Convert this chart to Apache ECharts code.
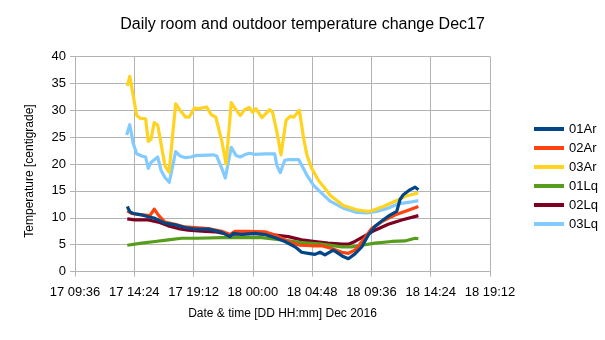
<!DOCTYPE html>
<html><head><meta charset="utf-8">
<script src="https://cdn.jsdelivr.net/npm/echarts@6/dist/echarts.min.js"></script>
<style>html,body{margin:0;padding:0;background:#fff}#c{width:605px;height:340px}</style>
</head><body><div id="c"></div>
<script>
const titleText = "Daily room and outdoor temperature change Dec17";
const xAxisName = "Date & time [DD HH:mm] Dec 2016";
const yAxisName = "Temperature [centigrade]";
const seriesNames = ["01Ar", "02Ar", "03Ar", "01Lq", "02Lq", "03Lq"];
const seriesColors = ["#004586", "#ff420e", "#ffd320", "#579d1c", "#7e0021", "#83caff"];
// x axis: "17 09:36" .. "18 19:12", step 4:48
const xMinLabel = "17 09:36", xMaxLabel = "18 19:12", xStepMinutes = 288;
const yTicks = [0, 5, 10, 15, 20, 25, 30, 35, 40];

const s01Ar = [["17 13:50",12.1],["17 14:03",11.1],["17 14:19",10.8],["17 14:52",10.6],["17 15:32",10.2],["17 16:05",9.9],["17 16:53",9.0],["17 17:42",8.7],["17 18:30",8.2],["17 19:19",7.9],["17 20:24",7.9],["17 21:29",7.3],["17 22:09",6.5],["17 22:25",7.1],["17 23:06",6.9],["18 00:10",7.1],["18 00:59",6.9],["18 01:48",6.3],["18 02:36",5.6],["18 03:25",4.6],["18 03:57",3.6],["18 04:29",3.4],["18 05:02",3.2],["18 05:26",3.6],["18 05:50",3.1],["18 06:31",4.0],["18 06:55",3.4],["18 07:19",2.8],["18 07:44",2.4],["18 08:16",3.3],["18 08:49",4.6],["18 09:21",6.8],["18 09:53",8.4],["18 10:26",9.4],["18 11:06",10.5],["18 11:39",11.2],["18 11:55",13.4],["18 12:11",14.3],["18 12:43",15.2],["18 13:08",15.7],["18 13:24",15.2]];
const s02Ar = [["17 13:50",11.3],["17 14:11",10.8],["17 14:52",10.6],["17 15:40",10.4],["17 16:01",11.6],["17 16:21",10.5],["17 16:53",9.2],["17 17:42",8.8],["17 18:30",8.3],["17 19:19",8.2],["17 20:24",8.0],["17 21:29",7.5],["17 22:09",6.9],["17 22:33",7.5],["17 23:38",7.5],["18 00:59",7.4],["18 01:48",6.8],["18 02:52",5.6],["18 03:49",4.9],["18 04:46",4.8],["18 05:34",4.8],["18 06:23",4.3],["18 07:12",3.6],["18 07:44",3.4],["18 08:16",4.0],["18 08:57",5.9],["18 09:37",8.0],["18 10:26",9.3],["18 11:30",10.5],["18 12:35",11.4],["18 13:24",12.1]];
const s03Ar = [["17 13:50",34.5],["17 14:02",36.3],["17 14:36",29.0],["17 14:52",28.5],["17 15:19",28.4],["17 15:32",24.2],["17 15:45",24.6],["17 16:01",27.7],["17 16:18",27.2],["17 16:53",19.7],["17 17:13",18.5],["17 17:45",31.2],["17 18:06",30.0],["17 18:34",28.7],["17 18:50",28.7],["17 19:16",30.4],["17 19:38",30.3],["17 20:16",30.6],["17 20:37",29.2],["17 21:00",28.7],["17 21:30",24.1],["17 21:50",20.0],["17 22:15",31.4],["17 22:34",30.3],["17 22:59",29.0],["17 23:20",30.1],["17 23:43",30.5],["17 23:59",29.6],["18 00:15",30.3],["18 00:44",28.6],["18 01:22",30.1],["18 01:36",29.6],["18 01:57",25.9],["18 02:17",21.7],["18 02:41",28.1],["18 03:02",28.9],["18 03:18",28.7],["18 03:46",30.0],["18 04:07",24.7],["18 04:23",21.6],["18 04:47",19.1],["18 05:20",16.9],["18 05:52",15.4],["18 06:15",14.2],["18 07:19",12.3],["18 08:24",11.5],["18 09:13",11.2],["18 09:37",11.3],["18 10:34",12.1],["18 11:39",13.2],["18 12:27",14.1],["18 13:24",14.6]];
const s01Lq = [["17 13:50",4.9],["17 15:00",5.3],["17 16:05",5.6],["17 17:09",5.9],["17 18:14",6.2],["17 19:30",6.2],["17 21:29",6.3],["17 23:30",6.3],["18 00:43",6.3],["18 02:20",5.9],["18 03:57",5.4],["18 05:34",5.1],["18 07:12",4.6],["18 08:00",4.6],["18 08:49",4.9],["18 09:53",5.3],["18 11:14",5.6],["18 12:19",5.7],["18 13:08",6.2],["18 13:24",6.1]];
const s02Lq = [["17 13:50",9.8],["17 14:27",9.6],["17 15:32",9.6],["17 16:21",9.2],["17 17:09",8.5],["17 17:58",8.0],["17 18:46",7.7],["17 19:51",7.5],["17 20:56",7.4],["17 22:01",6.9],["17 23:00",7.0],["18 00:00",7.1],["18 01:48",6.8],["18 02:52",6.5],["18 03:57",5.9],["18 05:02",5.6],["18 06:06",5.3],["18 07:12",5.1],["18 07:44",5.1],["18 08:16",5.6],["18 08:57",6.5],["18 09:53",7.7],["18 10:58",8.8],["18 12:03",9.6],["18 13:24",10.4]];
const s03Lq = [["17 13:47",25.4],["17 14:02",27.3],["17 14:19",23.8],["17 14:36",21.9],["17 15:00",21.5],["17 15:19",21.3],["17 15:32",19.2],["17 15:45",20.3],["17 16:18",21.3],["17 16:34",18.8],["17 16:53",17.5],["17 17:14",16.6],["17 17:45",22.3],["17 18:06",21.5],["17 18:30",21.2],["17 18:59",21.3],["17 19:27",21.6],["17 19:54",21.6],["17 20:48",21.7],["17 21:04",21.5],["17 21:30",19.1],["17 21:46",17.4],["17 22:15",23.1],["17 22:38",21.6],["17 22:59",21.3],["17 23:20",21.7],["17 23:43",22.0],["18 00:12",21.8],["18 01:00",21.9],["18 01:46",21.9],["18 01:57",19.7],["18 02:13",18.4],["18 02:35",20.7],["18 02:54",20.8],["18 03:43",20.8],["18 04:23",17.9],["18 04:56",16.0],["18 05:20",15.1],["18 06:15",13.1],["18 07:19",11.8],["18 08:24",11.0],["18 09:13",10.9],["18 10:02",11.2],["18 10:50",11.7],["18 11:47",12.6],["18 12:43",12.9],["18 13:24",13.2]];

const allData = [s01Ar, s02Ar, s03Ar, s01Lq, s02Lq, s03Lq];

function toMin(s) {
  const parts = s.split(' ');
  const hm = parts[1].split(':').map(Number);
  return (Number(parts[0]) - 17) * 1440 + hm[0] * 60 + hm[1];
}
function fmt(v) {
  v = Math.round(v);
  const d = 17 + Math.floor(v / 1440);
  const r = v % 1440;
  const h = Math.floor(r / 60), m = r % 60;
  return d + ' ' + String(h).padStart(2, '0') + ':' + String(m).padStart(2, '0');
}

const FONT = "Liberation Sans";
const gridCol = "#b3b3b3";
const chart = echarts.init(document.getElementById('c'), null, {renderer: 'canvas'});
chart.setOption({
  animation: false,
  backgroundColor: '#fff',
  title: {
    text: titleText, left: 'center', top: 12,
    textStyle: {fontFamily: FONT, fontSize: 16, fontWeight: 'normal', color: '#000'}
  },
  legend: {
    orient: 'vertical', left: 529, top: 117.5,
    data: seriesNames, icon: 'rect', itemWidth: 30, itemHeight: 4, itemGap: 6,
    textStyle: {fontFamily: FONT, fontSize: 13, color: '#000'}
  },
  grid: {left: 75, top: 56.4, width: 415, height: 215.2, containLabel: false},
  xAxis: {
    type: 'value', min: toMin(xMinLabel), max: toMin(xMaxLabel), interval: xStepMinutes,
    axisLine: {show: true, lineStyle: {color: gridCol}},
    axisTick: {show: true, length: 5, lineStyle: {color: gridCol}},
    splitLine: {show: true, lineStyle: {color: gridCol}},
    axisLabel: {formatter: fmt, fontFamily: FONT, fontSize: 13, color: '#000', margin: 14, showMinLabel: true, showMaxLabel: true}
  },
  yAxis: {
    type: 'value', min: yTicks[0], max: yTicks[yTicks.length - 1], interval: yTicks[1] - yTicks[0],
    axisLine: {show: true, lineStyle: {color: gridCol}},
    axisTick: {show: true, length: 5, lineStyle: {color: gridCol}},
    splitLine: {show: true, lineStyle: {color: gridCol}},
    axisLabel: {fontFamily: FONT, fontSize: 13, color: '#000', margin: 9}
  },
  graphic: [
    {type: 'text', x: 282.5, y: 314, style: {text: xAxisName, fontFamily: FONT, fontSize: 12, fill: '#000', align: 'center', verticalAlign: 'middle'}},
    {type: 'text', x: 30, y: 171, rotation: Math.PI / 2, style: {text: yAxisName, fontFamily: FONT, fontSize: 12, fill: '#000', align: 'center', verticalAlign: 'middle'}}
  ],
  series: allData.map((d, i) => ({
    name: seriesNames[i], type: 'line', showSymbol: false, symbol: 'none',
    z: 10 - i,
    color: seriesColors[i],
    lineStyle: {width: 3.2, color: seriesColors[i], join: 'round'},
    data: d.map(p => [toMin(p[0]), p[1]])
  }))
});
</script></body></html>
